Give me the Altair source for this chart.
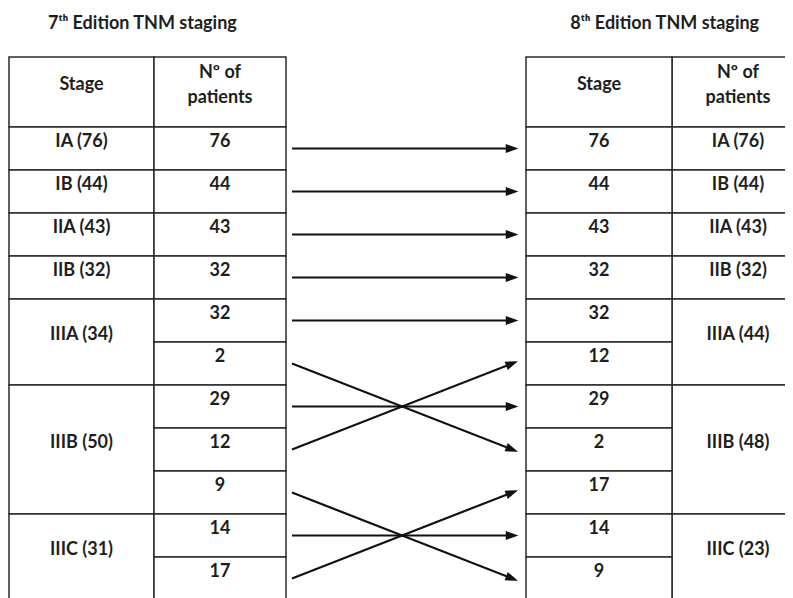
import math
import altair as alt
import pandas as pd

# ---- data ----
left_title = "7ᵗʰ Edition TNM staging"
right_title = "8ᵗʰ Edition TNM staging"
header_stage = "Stage"
header_count = ["Nº of", "patients"]

left_stage_labels = ["IA (76)", "IB (44)", "IIA (43)", "IIB (32)", "IIIA (34)", "IIIB (50)", "IIIC (31)"]
left_stage_span = [1, 1, 1, 1, 2, 3, 2]
left_counts = [76, 44, 43, 32, 32, 2, 29, 12, 9, 14, 17]

right_stage_labels = ["IA (76)", "IB (44)", "IIA (43)", "IIB (32)", "IIIA (44)", "IIIB (48)", "IIIC (23)"]
right_stage_span = [1, 1, 1, 1, 2, 3, 2]
right_counts = [76, 44, 43, 32, 32, 12, 29, 2, 17, 14, 9]

flow_from = [0, 1, 2, 3, 4, 5, 6, 7, 8, 9, 10]
flow_to = [0, 1, 2, 3, 4, 7, 6, 5, 10, 9, 8]

# ---- layout (table units: columns 0..5, rows 0..11) ----
W, H = 777, 590
COL_PX = [1, 146, 278, 518, 664, 796]
ROW_PX = 43
HEADER = 70 / ROW_PX
x_scale = alt.Scale(domain=[0, 1, 2, 3, 4, 5], range=COL_PX)
y_scale = alt.Scale(domain=[0, 11], range=[119, 119 + 11 * ROW_PX])

cells, texts = [], []


def add_table(stage_col, count_col, stage_labels, spans, counts, head_first, head_second):
    for c in (stage_col, count_col):
        cells.append(dict(x=c, x2=c + 1, y=-HEADER, y2=0))
    # header texts (the 8th edition table keeps "Stage" in its first column)
    texts.append(dict(x=head_first + 0.5, y=-HEADER / 2 - 0.16, t=header_stage))
    texts.append(dict(x=head_second + 0.5, y=-HEADER / 2 - 0.45, t=header_count[0]))
    texts.append(dict(x=head_second + 0.5, y=-HEADER / 2 + 0.13, t=header_count[1]))
    r = 0
    for lab, sp in zip(stage_labels, spans):
        cells.append(dict(x=stage_col, x2=stage_col + 1, y=r, y2=r + sp))
        texts.append(dict(x=stage_col + 0.5, y=r + sp / 2 - 0.16, t=lab))
        r += sp
    for i, v in enumerate(counts):
        cells.append(dict(x=count_col, x2=count_col + 1, y=i, y2=i + 1))
        texts.append(dict(x=count_col + 0.5, y=i + 0.34, t=str(v)))


add_table(0, 1, left_stage_labels, left_stage_span, left_counts, 0, 1)
add_table(4, 3, right_stage_labels, right_stage_span, right_counts, 3, 4)

cells_df = pd.DataFrame(cells)
texts_df = pd.DataFrame(texts)
titles_df = pd.DataFrame([
    dict(x=0.92, y=-2.40, t=left_title),
    dict(x=3.95, y=-2.40, t=right_title),
])

X0, X1 = 2.025, 2.942
arrows = []
for a, b in zip(flow_from, flow_to):
    y0, y1 = a + 0.5, b + 0.5
    dx = (X1 - X0) * (COL_PX[3] - COL_PX[2])
    dy = (y1 - y0) * ROW_PX
    ang = math.degrees(math.atan2(dy, dx)) % 360
    arrows.append(dict(x=X0, x2=X1, y=y0, y2=y1, ang=ang))
arrows_df = pd.DataFrame(arrows)

FONT = "Lato"
INK = "#1e1e1e"
FS = 18

rects = alt.Chart(cells_df).mark_rect(fill="white", stroke="#2a2a2a", strokeWidth=1.5).encode(
    x=alt.X("x:Q", scale=x_scale, axis=None),
    x2="x2:Q",
    y=alt.Y("y:Q", scale=y_scale, axis=None),
    y2="y2:Q",
)

labels = alt.Chart(texts_df).mark_text(
    font=FONT, fontWeight="bold", fontSize=FS, color=INK, align="center", baseline="middle"
).encode(
    x=alt.X("x:Q", scale=x_scale, axis=None),
    y=alt.Y("y:Q", scale=y_scale, axis=None),
    text="t:N",
)

titles = alt.Chart(titles_df).mark_text(
    font=FONT, fontWeight="bold", fontSize=FS, color=INK, align="center", baseline="middle"
).encode(
    x=alt.X("x:Q", scale=x_scale, axis=None),
    y=alt.Y("y:Q", scale=y_scale, axis=None),
    text="t:N",
)

lines = alt.Chart(arrows_df).mark_rule(color="#111111", strokeWidth=2.2).encode(
    x=alt.X("x:Q", scale=x_scale, axis=None),
    x2="x2:Q",
    y=alt.Y("y:Q", scale=y_scale, axis=None),
    y2="y2:Q",
)

heads = alt.Chart(arrows_df).mark_point(
    shape="M-1,-0.7L1,0L-1,0.7Z", filled=True, size=160, color="#111111", opacity=1
).encode(
    x=alt.X("x2:Q", scale=x_scale, axis=None),
    y=alt.Y("y2:Q", scale=y_scale, axis=None),
    angle=alt.Angle("ang:Q", scale=None),
)

chart = alt.layer(rects, lines, heads, labels, titles).properties(
    width=W, height=H, padding=0, autosize=alt.AutoSizeParams(type="none")
).configure_view(stroke=None)

chart.save("out.html", embed_options={"renderer": "svg", "actions": False})
